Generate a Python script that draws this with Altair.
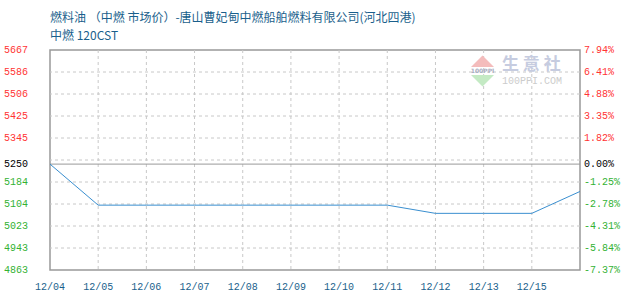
import altair as alt
import pandas as pd

# Price series (yuan/ton), one value per chart slot
dates = ["12/04", "12/05", "12/06", "12/07", "12/08", "12/09",
         "12/10", "12/11", "12/12", "12/13", "12/14", "12/15"]
prices = [5250, 5100, 5100, 5100, 5100, 5100,
          5100, 5100, 5070, 5070, 5070, 5150]

# Left/right axis ticks
base_price = 5250
tick_values = [5667, 5586.6, 5506.2, 5425.8, 5345.4, 5250,
               5184.6, 5104.2, 5023.8, 4943.4, 4863]
tick_labels = ["5667", "5586", "5506", "5425", "5345", "5250",
               "5184", "5104", "5023", "4943", "4863"]
pct_labels = ["7.94%", "6.41%", "4.88%", "3.35%", "1.82%", "0.00%",
              "-1.25%", "-2.78%", "-4.31%", "-5.84%", "-7.37%"]
grid_values = [4943.4, 5023.8, 5104.2, 5184.6, 5265.0,
               5345.4, 5425.8, 5506.2, 5586.6]

# Bottom date labels, one per slot from the left edge
x_labels = ["12/04", "12/05", "12/06", "12/07", "12/08", "12/09",
            "12/10", "12/11", "12/12", "12/13", "12/15"]

title_text = "燃料油 （中燃 市场价）-唐山曹妃甸中燃船舶燃料有限公司(河北四港)"
subtitle_text = "中燃 120CST"

W, H = 530, 220
MONO = "Liberation Mono"
CJK = "Noto Sans CJK SC"
BLUE_TXT = "#1a5f8c"

price_df = pd.DataFrame({
    "slot": list(range(len(dates))),
    "date": dates,
    "price": prices,
})
ticks_df = pd.DataFrame({
    "v": tick_values,
    "label": tick_labels,
    "pct": pct_labels,
    "tone": ["up" if v > base_price else ("down" if v < base_price else "base")
             for v in tick_values],
})
grid_df = pd.DataFrame({"v": grid_values})
xlab_df = pd.DataFrame({"slot": list(range(len(x_labels))), "label": x_labels})

y_scale = alt.Scale(domain=[4863, 5667], nice=False, zero=False)
x_scale = alt.Scale(domain=[0, len(dates) - 1], nice=False, zero=False)
tone_scale = alt.Scale(domain=["up", "base", "down"],
                       range=["#ff3333", "#000000", "#33b233"])

vgrid = alt.Chart(xlab_df).transform_filter("datum.slot > 0").mark_rule(
    color="#c8c8c8", strokeDash=[3, 3], strokeWidth=1
).encode(x=alt.X("slot:Q", scale=x_scale, axis=None))

bottom_labels = alt.Chart(xlab_df).mark_text(
    font=MONO, fontSize=10, align="center", baseline="middle",
    color=BLUE_TXT, clip=False
).encode(
    x=alt.X("slot:Q", scale=x_scale, axis=None),
    y=alt.value(H + 16.5),
    text="label:N",
)

hgrid = alt.Chart(grid_df).mark_rule(
    color="#c8c8c8", strokeDash=[3, 3], strokeWidth=1
).encode(y=alt.Y("v:Q", scale=y_scale, axis=None))

baseline = alt.Chart(pd.DataFrame({"v": [base_price]})).mark_rule(
    color="#999999", strokeWidth=1
).encode(y=alt.Y("v:Q", scale=y_scale, axis=None))

price_line = alt.Chart(price_df).mark_line(
    color="#3a8fd0", strokeWidth=1
).encode(
    x=alt.X("slot:Q", scale=x_scale, axis=None),
    y=alt.Y("price:Q", scale=y_scale, axis=None),
)

left_labels = alt.Chart(ticks_df).mark_text(
    font=MONO, fontSize=10, align="right", baseline="middle", clip=False
).encode(
    x=alt.value(-22),
    y=alt.Y("v:Q", scale=y_scale, axis=None),
    text="label:N",
    color=alt.Color("tone:N", scale=tone_scale, legend=None),
)

right_labels = alt.Chart(ticks_df).mark_text(
    font=MONO, fontSize=10, align="left", baseline="middle", clip=False
).encode(
    x=alt.value(W + 4),
    y=alt.Y("v:Q", scale=y_scale, axis=None),
    text="pct:N",
    color=alt.Color("tone:N", scale=tone_scale, legend=None),
)

header = alt.Chart(pd.DataFrame({"t": [title_text]})).mark_text(
    font=CJK, fontSize=12, align="left", baseline="middle",
    color=BLUE_TXT, clip=False
).encode(x=alt.value(0), y=alt.value(-32), text="t:N")

subheader = alt.Chart(pd.DataFrame({"t": [subtitle_text]})).mark_text(
    font=CJK, fontSize=12, align="left", baseline="middle",
    color=BLUE_TXT, clip=False
).encode(x=alt.value(0), y=alt.value(-14), text="t:N")

# faint site watermark (logo + name)
wm_logo_up = alt.Chart(pd.DataFrame({"k": [0]})).mark_point(
    shape="M-1,0L1,0L0,-1Z", filled=True, color="#f4bcbc", size=529, opacity=1
).encode(x=alt.value(432.5), y=alt.value(17))
wm_logo_dn = alt.Chart(pd.DataFrame({"k": [0]})).mark_point(
    shape="M-1,0L1,0L0,1Z", filled=True, color="#c4eac4", size=529, opacity=1
).encode(x=alt.value(432.5), y=alt.value(25))
wm_mid = alt.Chart(pd.DataFrame({"t": ["100PPI"]})).mark_text(
    font="DejaVu Sans", fontSize=6, fontWeight="bold", color="#a9aec0",
    align="center", baseline="middle"
).encode(x=alt.value(432.5), y=alt.value(21), text="t:N")
wm_name = alt.Chart(pd.DataFrame({"t": ["生 意 社"]})).mark_text(
    font=CJK, fontSize=17, fontWeight="bold", color="#c6cce0",
    align="left", baseline="middle"
).encode(x=alt.value(452), y=alt.value(15), text="t:N")
wm_site = alt.Chart(pd.DataFrame({"t": ["100PPI.COM"]})).mark_text(
    font=MONO, fontSize=10, color="#cccccc",
    align="left", baseline="middle"
).encode(x=alt.value(452), y=alt.value(30.5), text="t:N")

chart = alt.layer(
    hgrid, vgrid, wm_logo_up, wm_logo_dn, wm_mid, wm_name, wm_site,
    baseline, price_line,
    left_labels, right_labels, bottom_labels, header, subheader,
).properties(
    width=W, height=H,
    autosize=alt.AutoSizeParams(type="none"),
    padding={"left": 50, "top": 50, "right": 50, "bottom": 30},
    background="white",
).configure_view(stroke="#999999", strokeWidth=1.5)

chart.save("out.html", embed_options={"renderer": "svg", "actions": False})
